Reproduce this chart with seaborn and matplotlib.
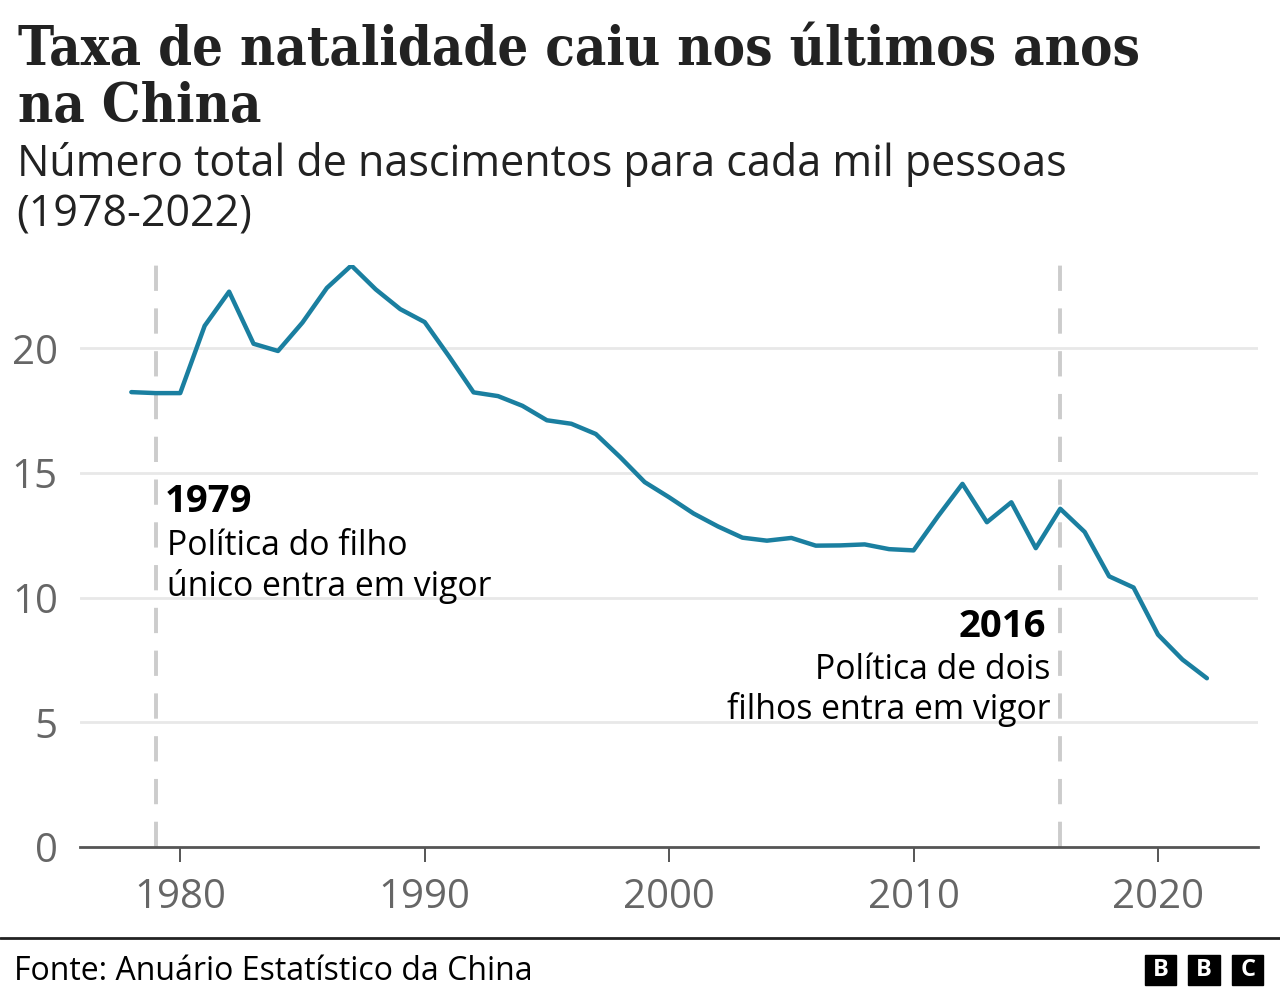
import matplotlib
matplotlib.use("Agg")
import matplotlib.pyplot as plt
from matplotlib.patches import Rectangle
from matplotlib.lines import Line2D
import seaborn as sns
import pandas as pd

years = list(range(1978, 2023))
birth_rate = [18.25, 18.21, 18.21, 20.91, 22.28, 20.19, 19.90, 21.04, 22.43, 23.33,
              22.37, 21.58, 21.06, 19.68, 18.24, 18.09, 17.70, 17.12, 16.98, 16.57,
              15.64, 14.64, 14.03, 13.38, 12.86, 12.41, 12.29, 12.40, 12.09, 12.10,
              12.14, 11.95, 11.90, 13.27, 14.57, 13.03, 13.83, 11.99, 13.57, 12.64,
              10.86, 10.41, 8.52, 7.52, 6.77]
x_ticks = [1980, 1990, 2000, 2010, 2020]
y_ticks = [0, 5, 10, 15, 20]
policy_years = [1979, 2016]

title_lines = ["Taxa de natalidade caiu nos últimos anos", "na China"]
subtitle_lines = ["Número total de nascimentos para cada mil pessoas", "(1978-2022)"]
ann_1979 = ["1979", "Política do filho", "único entra em vigor"]
ann_2016 = ["2016", "Política de dois", "filhos entra em vigor"]
source = "Fonte: Anuário Estatístico da China"

df = pd.DataFrame({"ano": years, "taxa": birth_rate})

sns.set_theme(style="white")
plt.rcParams['font.family'] = ['Open Sans', 'DejaVu Sans']

fig = plt.figure(figsize=(12.8, 10), dpi=100)
ax = fig.add_axes([0.0625, 0.153, 0.983 - 0.0625, 0.735 - 0.153])

for y in y_ticks[1:]:
    ax.axhline(y, color="#e8e8e8", lw=2, zorder=0)
for py in policy_years:
    ax.axvline(py, color="#cccccc", lw=2.8, ls=(0, (6.5, 4.5)), zorder=1)

sns.lineplot(data=df, x="ano", y="taxa", ax=ax, color="#1a7fa0", lw=3.2, zorder=3)

ax.set_xlim(1975.9, 2024.1)
ax.set_ylim(0, 23.35)
ax.set_xticks(x_ticks)
ax.set_yticks(y_ticks)
ax.set_xlabel("")
ax.set_ylabel("")
for s in ["top", "right", "left"]:
    ax.spines[s].set_visible(False)
ax.spines["bottom"].set_color("#555555")
ax.spines["bottom"].set_linewidth(2)
ax.tick_params(axis="x", length=11, width=1.4, color="#555555", pad=11,
               labelsize=29, labelcolor="#666666", bottom=True)
ax.tick_params(axis="y", length=0, pad=16, labelsize=29, labelcolor="#666666")

ann_x1 = 1979.38
ann_y1 = [13.43, 11.70, 10.06]
ax.text(ann_x1, ann_y1[0], ann_1979[0], fontsize=27.5, fontweight="bold", color="black",
        ha="left", va="baseline")
for t, yy in zip(ann_1979[1:], ann_y1[1:]):
    ax.text(ann_x1 + 0.08, yy, t, fontsize=24.3, color="black", ha="left", va="baseline")

ann_y2 = [8.42, 6.73, 5.13]
ax.text(2015.44, ann_y2[0], ann_2016[0], fontsize=27.5, fontweight="bold", color="black",
        ha="right", va="baseline")
for t, yy in zip(ann_2016[1:], ann_y2[1:]):
    ax.text(2015.6, yy, t, fontsize=24.3, color="black", ha="right", va="baseline")

fig.text(0.014, 1 - 65 / 1000, title_lines[0], fontsize=39, fontweight="bold",
         family=["DejaVu Serif"], fontstretch="condensed",
         color="#222222", ha="left", va="baseline")
fig.text(0.014, 1 - 122 / 1000, title_lines[1], fontsize=39, fontweight="bold",
         family=["DejaVu Serif"], fontstretch="condensed",
         color="#222222", ha="left", va="baseline")
fig.text(0.013, 1 - 176 / 1000, subtitle_lines[0], fontsize=31, color="#222222",
         ha="left", va="baseline")
fig.text(0.013, 1 - 226 / 1000, subtitle_lines[1], fontsize=31, color="#222222",
         ha="left", va="baseline")

fig.add_artist(Line2D([0, 1], [0.062, 0.062], color="#222222", lw=2,
                      transform=fig.transFigure))
fig.text(0.011, 1 - 980 / 1000, source, fontsize=23, color="black", ha="left",
         va="baseline")

box_w, box_h, gap = 0.0245, 0.030, 0.0095
x0 = 0.8945
for i, letter in enumerate("BBC"):
    xx = x0 + i * (box_w + gap)
    fig.add_artist(Rectangle((xx, 0.015), box_w, box_h, transform=fig.transFigure,
                             color="black"))
    fig.text(xx + box_w / 2, 0.015 + box_h / 2, letter, fontsize=17,
             fontweight="bold", color="white", ha="center", va="center")

fig.savefig("out.png", dpi=100, facecolor="white")
